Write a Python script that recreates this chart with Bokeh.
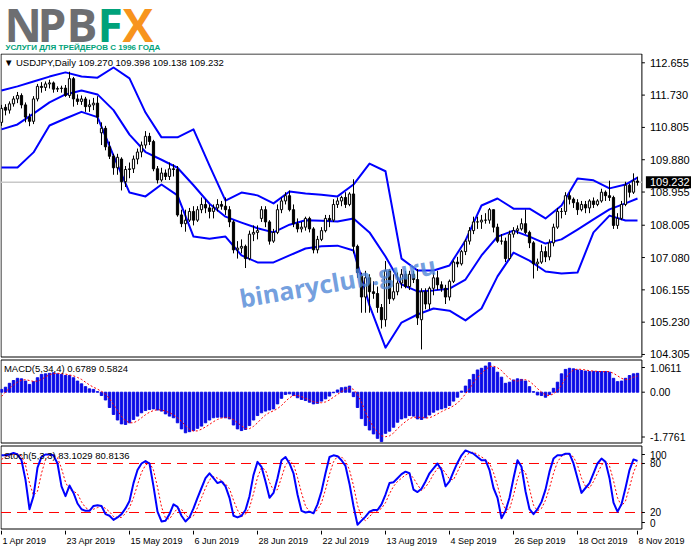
"""USDJPY daily, MT4 look: candles with bands, MACD and stochastic panels."""
from bokeh.core.properties import value
from bokeh.embed import file_html
from bokeh.layouts import column
from bokeh.models import ColumnDataSource, Range1d
from bokeh.plotting import figure
from bokeh.resources import INLINE

# ---- data (one entry per daily bar, 1 Apr 2019 .. 8 Nov 2019) ----
BAR = list(range(160))

OPEN = [110.95, 111.38, 111.30, 111.48, 111.62, 111.72, 111.45, 111.10, 110.98, 111.62,
        111.98, 111.95, 112.05, 112.08, 111.90, 111.92, 111.93, 111.72, 112.20, 111.62,
        111.55, 111.62, 111.40, 111.45, 111.50, 110.65, 110.78, 110.25, 109.98, 109.65,
        109.90, 109.25, 109.60, 109.62, 109.90, 110.10, 110.30, 110.55, 110.40, 109.62,
        109.30, 109.50, 109.40, 109.62, 109.60, 108.30, 108.05, 108.15, 108.40, 108.15,
        108.45, 108.60, 108.50, 108.40, 108.50, 108.60, 108.55, 108.45, 108.10, 107.30,
        107.35, 107.40, 107.05, 107.75, 107.80, 108.20, 108.45, 108.10, 107.55, 107.80,
        108.45, 108.70, 108.85, 108.45, 108.05, 107.90, 107.95, 108.20, 107.90, 107.30,
        107.60, 107.85, 108.20, 108.15, 108.60, 108.70, 108.80, 108.60, 108.90, 107.40,
        106.55, 105.95, 106.50, 106.10, 106.05, 105.65, 105.30, 106.70, 105.90, 106.10,
        106.35, 106.60, 106.25, 106.60, 106.45, 105.30, 106.10, 105.75, 106.20, 106.50,
        106.30, 106.20, 105.95, 106.40, 106.95, 106.90, 107.25, 107.55, 107.85, 108.10,
        108.10, 108.15, 108.15, 108.45, 107.95, 107.55, 107.55, 107.05, 107.75, 107.85,
        107.90, 108.05, 107.80, 107.50, 106.90, 106.95, 107.25, 107.10, 107.50, 107.95,
        108.40, 108.40, 108.85, 108.75, 108.65, 108.45, 108.60, 108.50, 108.70, 108.60,
        108.70, 108.95, 108.85, 108.80, 108.00, 108.20, 108.60, 109.15, 108.95, 109.270]
HIGH = [111.45, 111.47, 111.55, 111.70, 111.82, 111.78, 111.52, 111.20, 111.70, 112.05,
        112.10, 112.12, 112.17, 112.12, 111.98, 112.00, 112.02, 112.40, 112.25, 111.75,
        111.72, 111.68, 111.60, 111.65, 111.70, 110.95, 110.85, 110.40, 110.05, 110.05,
        109.95, 109.70, 109.80, 110.00, 110.20, 110.40, 110.70, 110.65, 110.45, 109.70,
        109.65, 109.60, 109.80, 109.75, 109.70, 108.45, 108.45, 108.50, 108.55, 108.55,
        108.80, 108.75, 108.60, 108.60, 108.75, 108.70, 108.80, 108.55, 108.15, 107.55,
        107.60, 107.45, 107.85, 108.00, 108.00, 108.55, 108.55, 108.15, 107.90, 108.60,
        108.80, 108.95, 109.00, 108.60, 108.20, 108.10, 108.25, 108.25, 107.95, 107.70,
        107.95, 108.30, 108.30, 108.75, 108.80, 108.85, 108.95, 108.95, 109.32, 107.45,
        106.65, 106.70, 106.60, 106.40, 106.25, 105.75, 106.98, 106.75, 106.60, 106.65,
        106.75, 106.70, 106.70, 106.70, 106.75, 106.20, 106.20, 106.25, 106.65, 106.70,
        106.40, 106.30, 106.45, 107.00, 107.10, 107.30, 107.60, 107.95, 108.25, 108.25,
        108.30, 108.35, 108.50, 108.45, 108.05, 107.75, 107.65, 107.85, 107.95, 108.00,
        108.20, 108.45, 107.85, 107.55, 107.05, 107.45, 107.40, 107.60, 108.05, 108.50,
        108.50, 108.95, 108.95, 108.80, 108.75, 108.70, 108.70, 108.75, 108.80, 108.75,
        109.05, 109.00, 109.28, 108.85, 108.35, 108.70, 109.25, 109.20, 109.49, 109.398]
LOW = [110.85, 111.15, 111.20, 111.40, 111.50, 111.35, 110.95, 110.84, 110.90, 111.55,
       111.80, 111.85, 111.92, 111.80, 111.82, 111.80, 111.68, 111.65, 111.40, 111.45,
       111.45, 111.25, 111.25, 111.30, 110.90, 110.30, 110.15, 109.90, 109.45, 109.45,
       109.00, 109.10, 109.35, 109.50, 109.75, 109.95, 110.20, 110.30, 109.55, 109.20,
       109.25, 109.30, 109.30, 109.40, 108.25, 107.95, 107.82, 108.10, 108.00, 108.10,
       108.35, 108.35, 108.20, 108.20, 108.40, 108.45, 108.30, 107.95, 107.20, 107.05,
       107.20, 106.78, 107.00, 107.55, 107.60, 108.10, 107.95, 107.45, 107.50, 107.75,
       108.35, 108.60, 108.40, 107.95, 107.80, 107.80, 107.85, 107.80, 107.20, 107.20,
       107.55, 107.80, 107.95, 108.10, 108.50, 108.55, 108.50, 108.55, 107.20, 106.50,
       105.50, 105.50, 105.50, 105.90, 105.50, 105.05, 105.10, 105.75, 105.85, 106.00,
       106.20, 106.20, 106.15, 106.35, 105.15, 104.45, 105.60, 105.60, 106.00, 106.15,
       106.10, 105.75, 105.85, 106.35, 106.80, 106.85, 107.15, 107.45, 107.75, 107.90,
       107.90, 108.05, 108.05, 107.80, 107.50, 107.45, 106.95, 107.00, 107.65, 107.75,
       107.85, 107.75, 107.35, 106.48, 106.70, 106.90, 106.95, 107.00, 107.40, 107.90,
       108.20, 108.30, 108.60, 108.50, 108.30, 108.40, 108.35, 108.35, 108.50, 108.55,
       108.65, 108.70, 108.70, 107.90, 107.90, 108.15, 108.55, 108.80, 108.90, 109.138]
CLOSE = [111.35, 111.30, 111.48, 111.62, 111.72, 111.45, 111.10, 110.98, 111.62, 111.98,
         111.95, 112.05, 112.08, 111.90, 111.92, 111.93, 111.72, 112.20, 111.62, 111.55,
         111.62, 111.40, 111.45, 111.50, 111.10, 110.78, 110.25, 109.98, 109.65, 109.95,
         109.25, 109.60, 109.62, 109.90, 110.10, 110.30, 110.55, 110.40, 109.62, 109.30,
         109.50, 109.40, 109.62, 109.60, 108.30, 108.05, 108.15, 108.40, 108.15, 108.45,
         108.60, 108.50, 108.40, 108.50, 108.60, 108.55, 108.45, 108.10, 107.30, 107.35,
         107.40, 107.05, 107.75, 107.80, 107.85, 108.45, 108.10, 107.55, 107.80, 108.45,
         108.70, 108.85, 108.45, 108.05, 107.90, 107.95, 108.20, 107.90, 107.30, 107.60,
         107.85, 108.20, 108.15, 108.60, 108.70, 108.80, 108.60, 108.90, 107.40, 106.65,
         105.95, 106.50, 106.10, 106.05, 105.65, 105.30, 106.70, 105.90, 106.10, 106.35,
         106.60, 106.25, 106.60, 106.45, 105.35, 106.10, 105.75, 106.20, 106.50, 106.30,
         106.20, 105.95, 106.40, 106.95, 106.90, 107.25, 107.55, 107.85, 108.10, 108.10,
         108.15, 108.15, 108.45, 107.95, 107.55, 107.55, 107.05, 107.75, 107.85, 107.90,
         108.05, 107.80, 107.50, 106.90, 106.95, 107.25, 107.10, 107.50, 107.95, 108.40,
         108.40, 108.85, 108.75, 108.65, 108.45, 108.60, 108.50, 108.70, 108.60, 108.70,
         108.95, 108.85, 108.80, 108.00, 108.20, 108.60, 109.15, 108.95, 109.27, 109.232]

# bands read every 4th bar
BAND_X = list(range(0, 160, 4)) + [159]
BAND_UPPER = [111.86, 111.98, 112.12, 112.26, 112.38, 112.26, 112.23, 112.52, 112.21, 111.23,
              110.52, 110.52, 110.75, 109.71, 108.71, 108.94, 108.86, 108.63, 108.97, 108.91,
              108.88, 108.83, 109.17, 109.77, 109.55, 107.05, 106.71, 106.71, 106.85, 107.57,
              108.57, 108.77, 108.48, 108.48, 108.20, 108.57, 109.34, 109.29, 109.06, 109.17, 109.37]
BAND_MID = [110.75, 110.89, 111.20, 111.52, 111.75, 111.86, 111.75, 111.30, 110.60, 110.10,
            109.88, 109.65, 109.15, 108.62, 108.25, 108.08, 107.92, 107.80, 108.02, 108.15,
            108.13, 108.11, 108.20, 107.80, 107.11, 106.31, 106.11, 106.14, 106.19, 106.45,
            107.14, 107.68, 107.85, 107.68, 107.48, 107.60, 107.88, 108.17, 108.46, 108.63, 108.77]
BAND_LOWER = [109.66, 109.66, 110.09, 110.86, 111.06, 111.25, 111.10, 110.00, 108.94, 108.83,
              109.17, 108.86, 107.68, 107.62, 107.68, 107.14, 106.94, 106.94, 107.14, 107.34,
              107.40, 107.42, 107.28, 105.71, 104.50, 105.22, 105.45, 105.62, 105.56, 105.28,
              105.62, 106.54, 107.22, 106.99, 106.68, 106.62, 106.65, 107.80, 108.28, 108.14, 108.14]

MACD_HIST = [0.10, 0.18, 0.32, 0.42, 0.50, 0.48, 0.40, 0.28, 0.38, 0.52,
             0.64, 0.66, 0.68, 0.70, 0.66, 0.64, 0.60, 0.60, 0.52, 0.40,
             0.30, 0.20, 0.12, 0.10, 0.02, -0.12, -0.28, -0.55, -0.80, -1.00,
             -1.14, -1.16, -1.10, -0.98, -0.86, -0.74, -0.66, -0.62, -0.60, -0.64,
             -0.68, -0.78, -0.86, -0.92, -1.10, -1.32, -1.46, -1.42, -1.38, -1.30,
             -1.22, -1.10, -1.00, -0.92, -0.90, -0.90, -0.92, -0.96, -1.18, -1.32,
             -1.38, -1.34, -1.20, -1.00, -0.84, -0.74, -0.68, -0.64, -0.60, -0.42,
             -0.22, -0.08, -0.06, -0.12, -0.20, -0.26, -0.30, -0.36, -0.42, -0.40,
             -0.32, -0.24, -0.14, -0.02, 0.08, 0.16, 0.18, 0.22, -0.16, -0.55,
             -0.95, -1.20, -1.36, -1.50, -1.66, -1.776, -1.48, -1.40, -1.26, -1.08,
             -0.96, -0.92, -0.84, -0.86, -0.96, -0.98, -0.92, -0.82, -0.72, -0.64,
             -0.60, -0.56, -0.48, -0.32, -0.18, 0.04, 0.22, 0.45, 0.64, 0.80,
             0.86, 0.94, 1.061, 0.90, 0.72, 0.54, 0.32, 0.36, 0.44, 0.48,
             0.46, 0.40, 0.20, 0.02, -0.10, -0.12, -0.18, -0.08, 0.14, 0.36,
             0.66, 0.82, 0.86, 0.84, 0.80, 0.78, 0.76, 0.74, 0.75, 0.74,
             0.74, 0.74, 0.72, 0.50, 0.38, 0.40, 0.50, 0.60, 0.66, 0.6789]
MACD_SIGNAL = [-0.15, 0.00, 0.15, 0.26, 0.36, 0.43, 0.45, 0.42, 0.39, 0.40,
               0.46, 0.55, 0.63, 0.67, 0.68, 0.67, 0.65, 0.62, 0.59, 0.53,
               0.46, 0.36, 0.26, 0.18, 0.11, 0.03, -0.07, -0.23, -0.44, -0.66,
               -0.87, -1.03, -1.10, -1.10, -1.03, -0.92, -0.81, -0.72, -0.66, -0.63,
               -0.64, -0.68, -0.74, -0.81, -0.92, -1.05, -1.20, -1.33, -1.40, -1.39,
               -1.33, -1.25, -1.16, -1.06, -0.98, -0.93, -0.91, -0.92, -0.99, -1.10,
               -1.21, -1.31, -1.31, -1.23, -1.10, -0.95, -0.82, -0.73, -0.67, -0.59,
               -0.48, -0.33, -0.20, -0.12, -0.12, -0.16, -0.22, -0.28, -0.34, -0.37,
               -0.38, -0.35, -0.28, -0.18, -0.08, 0.02, 0.10, 0.16, 0.10, -0.08,
               -0.36, -0.72, -1.02, -1.25, -1.43, -1.57, -1.60, -1.57, -1.47, -1.31,
               -1.18, -1.06, -0.95, -0.90, -0.90, -0.91, -0.93, -0.92, -0.86, -0.78,
               -0.70, -0.63, -0.57, -0.49, -0.39, -0.24, -0.06, 0.13, 0.33, 0.53,
               0.69, 0.81, 0.92, 0.94, 0.88, 0.78, 0.62, 0.49, 0.42, 0.40,
               0.44, 0.45, 0.39, 0.27, 0.13, 0.00, -0.10, -0.12, -0.06, 0.06,
               0.25, 0.50, 0.68, 0.80, 0.83, 0.82, 0.80, 0.77, 0.76, 0.75,
               0.74, 0.74, 0.74, 0.68, 0.59, 0.50, 0.45, 0.47, 0.54, 0.5824]

STOCH_MAIN = [90, 90, 91, 93, 91, 84, 60, 24, 40, 75,
              88, 91, 91, 90, 80, 52, 40, 53, 44, 31,
              24, 22, 22, 28, 29, 28, 18, 16, 11, 14,
              18, 25, 34, 56, 72, 80, 83, 80, 52, 21,
              9, 10, 18, 30, 27, 16, 9, 14, 25, 38,
              50, 62, 68, 62, 56, 58, 52, 38, 16, 14,
              16, 23, 40, 66, 82, 76, 58, 38, 44, 62,
              84, 88, 80, 68, 42, 22, 20, 21, 19, 30,
              46, 68, 88, 90, 89, 84, 77, 55, 28, 5,
              10, 15, 21, 23, 23, 30, 42, 56, 57, 62,
              67, 70, 68, 48, 45, 49, 58, 68, 74, 80,
              72, 52, 58, 70, 81, 90, 96, 94, 92, 88,
              84, 84, 72, 50, 38, 13, 22, 38, 62, 84,
              76, 46, 24, 18, 24, 33, 48, 70, 86, 90,
              90, 92, 92, 80, 62, 44, 50, 56, 68, 80,
              86, 82, 62, 32, 21, 30, 50, 72, 85, 83.1029]
STOCH_SIGNAL = [85, 88, 90, 91, 92, 89, 78, 56, 41, 46,
                68, 85, 90, 91, 87, 74, 57, 48, 46, 43,
                33, 26, 23, 24, 26, 28, 25, 21, 15, 14,
                14, 19, 26, 38, 54, 69, 78, 81, 72, 51,
                27, 13, 12, 19, 25, 24, 17, 13, 16, 26,
                38, 50, 60, 64, 62, 59, 55, 49, 35, 23,
                15, 18, 26, 43, 63, 75, 72, 57, 47, 48,
                63, 78, 84, 79, 63, 44, 28, 21, 20, 23,
                32, 48, 67, 82, 89, 88, 83, 72, 53, 29,
                14, 10, 15, 20, 22, 25, 32, 43, 52, 58,
                62, 66, 68, 62, 54, 47, 51, 58, 67, 74,
                75, 68, 61, 60, 70, 80, 89, 93, 94, 91,
                88, 85, 80, 69, 53, 34, 24, 24, 41, 61,
                74, 69, 49, 29, 22, 25, 35, 50, 68, 82,
                89, 91, 91, 88, 78, 62, 52, 50, 58, 68,
                78, 83, 77, 59, 38, 28, 34, 51, 69, 80.8136]

PRICE_TICKS = [104.305, 105.230, 106.155, 107.080, 108.005, 108.955,
               109.880, 110.805, 111.730, 112.655]
LAST_PRICE = 109.232
MACD_LABELS = ["1.0611", "0.00", "-1.7761"]
STOCH_LABELS = ["100", "80", "20", "0"]
STOCH_LEVELS = [20, 80]
DATE_TICKS = [0, 16, 32, 48, 64, 80, 96, 112, 128, 144, 159]
DATE_LABELS = ["1 Apr 2019", "23 Apr 2019", "15 May 2019", "6 Jun 2019", "28 Jun 2019",
               "22 Jul 2019", "13 Aug 2019", "4 Sep 2019", "26 Sep 2019", "18 Oct 2019",
               "8 Nov 2019"]

# ---- layout: 4 px per bar, price scale drawn to the right of the bars ----
FONT = "Liberation Sans"
W = 691
PX = 4.0
X_START = -0.25
XR = Range1d(X_START, X_START + W / PX)
X_LEFT = X_START + 0.5 / PX          # left border line
AXIS_X = 160.1                       # right border / scale line
TICK_END = AXIS_X + 3 / PX
LABEL_X = AXIS_X + 8 / PX
BLUE = "#0000ff"
RED = "#ff0000"


def bare(height, x_range, y_range):
    p = figure(width=W, height=height, x_range=x_range, y_range=y_range, title=None,
               x_axis_location=None, y_axis_location=None,
               toolbar_location=None, output_backend="svg", min_border=0,
               outline_line_color=None, background_fill_color="white",
               border_fill_color="white")
    p.grid.visible = False
    return p


def panel(height, lo, hi, top_inset=1.5, bottom_inset=1.5):
    p = bare(height, XR, Range1d(lo, hi))
    upx = (hi - lo) / height
    top = hi - top_inset * upx
    bot = lo + bottom_inset * upx
    p.segment(x0=[X_LEFT, X_LEFT, X_LEFT, AXIS_X], y0=[bot, top, bot, bot],
              x1=[X_LEFT, AXIS_X, AXIS_X, AXIS_X], y1=[top, top, bot, top],
              line_color="black", line_width=1)
    return p, upx


def scale(p, positions, labels, size="11px"):
    n = len(positions)
    p.segment(x0=[AXIS_X] * n, y0=positions, x1=[TICK_END] * n, y1=positions,
              line_color="black", line_width=1)
    p.text(x=[LABEL_X] * n, y=positions, text=labels, text_font=value(FONT),
           text_font_size=size, text_color="black", text_baseline="middle",
           text_align="left")


def caption(p, y, text):
    p.text(x=[0.6], y=[y], text=[text], text_font=value(FONT), text_font_size="9.5px",
           text_color="black", text_baseline="middle", text_align="left")


# header with logo (y counts pixels up from the header's bottom edge)
head = bare(53, Range1d(0, W), Range1d(0, 53))
logo = dict(text_font=value("Open Sans"), text_font_size="46px", text_font_style="bold",
            text_baseline="middle", text_align="left")
head.text(x=[4, 37, 66], y=[30] * 3, text=["N", "P", "B"], text_color="#6d6e71", **logo)
head.text(x=[97], y=[30], text=["F"], text_color="#00a27a", **logo)
head.text(x=[122], y=[30], text=["X"], text_color="#f7941d", **logo)
head.text(x=[5], y=[6.5], text=["УСЛУГИ ДЛЯ ТРЕЙДЕРОВ С 1996 ГОДА"], text_color="#00a27a",
          text_font=value("Liberation Sans"), text_font_size="8px",
          text_font_style="bold", text_baseline="middle")

# price panel (page rows 53..358)
P_HI, P_LO = 112.921, 104.190
main, main_upx = panel(305, P_LO, P_HI, top_inset=0.5, bottom_inset=1.5)
main.segment(x0=[X_LEFT], y0=[LAST_PRICE], x1=[AXIS_X], y1=[LAST_PRICE],
             line_color="#c8c8c8", line_width=1.5)
for band in (BAND_UPPER, BAND_MID, BAND_LOWER):
    main.line(BAND_X, band, line_color=BLUE, line_width=2, line_join="round")

bull = [c >= o for o, c in zip(OPEN, CLOSE)]
candles = ColumnDataSource(dict(
    x=BAR, high=HIGH, low=LOW,
    top=[max(o, c) for o, c in zip(OPEN, CLOSE)],
    bottom=[min(o, c) for o, c in zip(OPEN, CLOSE)],
    fill=["white" if b else "black" for b in bull],
))
main.segment(x0="x", y0="low", x1="x", y1="high", source=candles,
             line_color="black", line_width=1)
main.vbar(x="x", top="top", bottom="bottom", width=0.55, source=candles,
          fill_color="fill", line_color="black", line_width=1)

main.text(x=[84], y=[106.4], text=["binaryclub.guru"], angle=0.17,
          text_font=value("Open Sans"), text_font_size="25px", text_font_style="bold",
          text_color="#4f86d6", text_alpha=0.8, text_align="center",
          text_baseline="middle")
caption(main, 112.66, "▼  USDJPY,Daily  109.270 109.398 109.138 109.232")
scale(main, PRICE_TICKS, ["%.3f" % t for t in PRICE_TICKS])
# current price tag over the scale
main.quad(left=[AXIS_X + 4 / PX], right=[XR.end], top=[LAST_PRICE + 6 * main_upx],
          bottom=[LAST_PRICE - 6 * main_upx], fill_color="black", line_color=None)
main.text(x=[LABEL_X], y=[LAST_PRICE], text=["%.3f" % LAST_PRICE], text_font=value(FONT),
          text_font_size="11px", text_color="white", text_baseline="middle",
          text_align="left")

# MACD panel (page rows 358..444), labels sit slightly inside the extremes
M_HI, M_LO = 1.212, -1.881
macd, macd_upx = panel(86, M_LO, M_HI)
macd.vbar(x=BAR, top=MACD_HIST, bottom=0, width=0.6, color="#0a0ae6")
macd.line(BAR, MACD_SIGNAL, line_color=RED, line_width=1, line_dash="2 2")
caption(macd, M_HI - 10 * macd_upx, "MACD(5,34,4) 0.6789 0.5824")
scale(macd, [M_HI - 9 * macd_upx, 0.0, M_LO + 7.5 * macd_upx], MACD_LABELS, "10.5px")

# stochastic panel (page rows 444..530)
S_HI, S_LO = 103.26, -2.04
stoch, stoch_upx = panel(86, S_LO, S_HI)
n_lv = len(STOCH_LEVELS)
stoch.segment(x0=[X_LEFT] * n_lv, y0=STOCH_LEVELS, x1=[AXIS_X] * n_lv, y1=STOCH_LEVELS,
              line_color=RED, line_width=1, line_dash="10 6")
stoch.line(BAR, STOCH_SIGNAL, line_color=RED, line_width=1, line_dash="2 2")
stoch.line(BAR, STOCH_MAIN, line_color=BLUE, line_width=2, line_join="round")
caption(stoch, S_HI - 11 * stoch_upx, "Stoch(5,3,3) 83.1029 80.8136")
scale(stoch, [S_HI - 10 * stoch_upx, 80, 20, S_LO + 8 * stoch_upx], STOCH_LABELS, "10px")

# date strip below the panels, sharing the bar scale
n_d = len(DATE_TICKS)
dates = bare(19, XR, Range1d(0, 19))
dates.segment(x0=DATE_TICKS, x1=DATE_TICKS, y0=[19] * n_d, y1=[15] * n_d,
              line_color="black", line_width=1)
dates.text(x=DATE_TICKS, y=[9] * n_d, text=DATE_LABELS, x_offset=1,
           text_font=value(FONT), text_font_size="9px", text_color="black",
           text_baseline="middle", text_align="left")

page = column(head, main, macd, stoch, dates, spacing=0)
open("out.html", "w").write(file_html(page, INLINE))
